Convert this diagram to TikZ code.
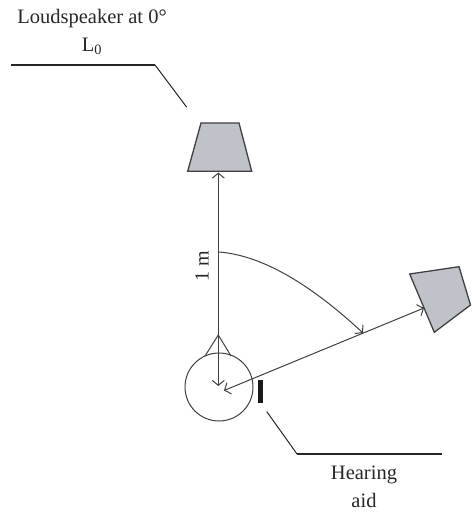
\documentclass[tikz,border=0pt]{standalone}
\usepackage{fontspec}
\setmainfont{Liberation Serif}
\usetikzlibrary{arrows.meta, positioning}
\definecolor{spkgrey}{HTML}{BFC3C9}
\definecolor{linegrey}{HTML}{404042}

\begin{document}
\begin{tikzpicture}[
    x=1pt, y=-1pt,
    spk/.style={draw=linegrey, fill=spkgrey, line width=1.3pt, line join=miter},
    arr/.style={{Straight Barb[length=5pt,width=12pt]}-{Straight Barb[length=5pt,width=12pt]}, line width=1pt, linegrey},
    tip/.style={-{Straight Barb[length=5pt,width=12pt]}, line width=1pt, linegrey},
    lead/.style={line width=1pt, black!85},
    leadh/.style={line width=1.7pt, black!85},
    lbl/.style={font=\fontsize{20.5}{28}\selectfont, align=center, text=black!85, inner sep=0pt}
  ]
  \useasboundingbox (0,0) rectangle (471,513);

  % Top loudspeaker
  \coordinate (ta) at (201,123);
  \coordinate (tb) at (239,123);
  \coordinate (tc) at (251.7,171.3);
  \coordinate (td) at (187.7,171.3);
  \draw[spk] (ta) -- (tb) -- (tc) -- (td) -- cycle;

  % Head with nose
  \node[circle, draw=linegrey, line width=1pt, minimum size=68pt, inner sep=0pt] (head) at (219,387) {};
  \coordinate (nose) at (218.3,335);
  \coordinate (noseL) at (205,356);
  \coordinate (noseR) at (231,356);
  \draw[linegrey, line width=1pt] (noseL) -- (nose) -- (noseR);

  % Side loudspeaker
  \coordinate (sa) at (409.7,274);
  \coordinate (sb) at (459,266.7);
  \coordinate (sc) at (470.5,305);
  \coordinate (sd) at (434.3,332.3);
  \draw[spk] (sa) -- (sb) -- (sc) -- (sd) -- cycle;

  % Distances
  \coordinate (mid) at (218.3,386);
  \coordinate (front) at (218.3,172.5);
  \coordinate (ear) at (224,390.5);
  \coordinate (side) at (424,308);
  \draw[arr] (front) -- (mid);
  \draw[arr] (ear) -- (side);
  \node[lbl, rotate=90, font=\fontsize{20}{22}\selectfont] (dist) at (202,266) {1 m};

  % Angle between the two
  \coordinate (arcA) at (219,252);
  \coordinate (arcB) at (363,333);
  \draw[tip] (arcA) .. controls (270,256) and (322,295) .. (arcB);

  % Hearing aid
  \node[rectangle, fill=black!90, minimum width=4.6pt, minimum height=23pt, inner sep=0pt] (aid) at (260.4,391.5) {};

  % Labels with leaders
  \node[lbl] (lbltop) at (92,32) {Loudspeaker at 0°\\L$_{\mathrm{0}}$};
  \coordinate (ltA) at (11,65);
  \coordinate (ltB) at (155,65);
  \coordinate (ltC) at (186.5,107);
  \draw[leadh] (ltA) -- (ltB);
  \draw[lead] (ltB) -- (ltC);

  \node[lbl] (lblaid) at (364,487) {Hearing\\aid};
  \coordinate (laA) at (266.7,411.5);
  \coordinate (laB) at (297,454);
  \coordinate (laC) at (441.7,454);
  \draw[lead] (laA) -- (laB);
  \draw[leadh] (laB) -- (laC);
\end{tikzpicture}
\end{document}
